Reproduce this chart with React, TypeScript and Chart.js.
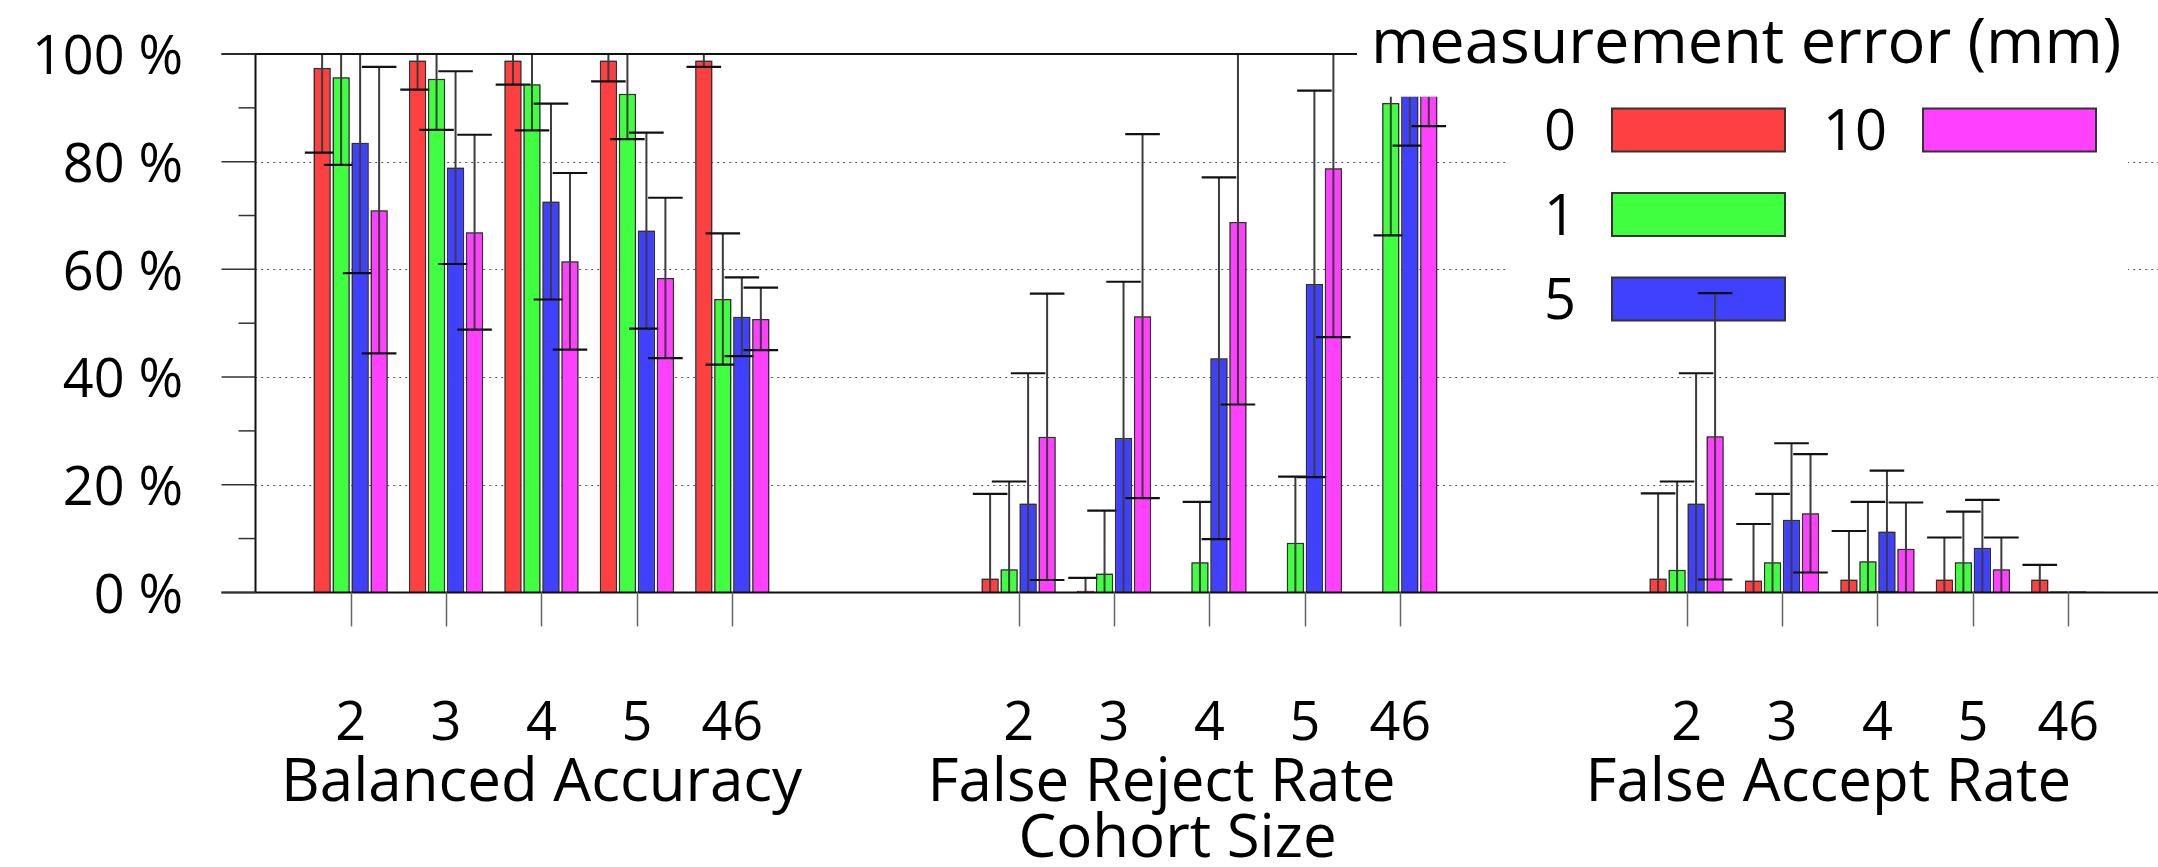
import React, { useEffect, useRef } from 'react';
import { Chart, registerables } from 'chart.js';

Chart.register(...registerables);

// ---------- data ----------
const cohortSizes = ['2', '3', '4', '5', '46'];
const metricNames = ['Balanced Accuracy', 'False Reject Rate', 'False Accept Rate'];
const axisTitle = 'Cohort Size';
const legendTitle = 'measurement error (mm)';
const errorLevels = ['0', '1', '5', '10'];
const yTicks = [0, 20, 40, 60, 80, 100];

// order: BA(2,3,4,5,46), FRR(2,3,4,5,46), FAR(2,3,4,5,46)
const mean0 = [97.4, 98.8, 98.8, 98.8, 98.8, 2.6, 0.3, 0, 0, 0, 2.6, 2.2, 2.4, 2.4, 2.4];
const sd0 = [15.7, 5.4, 4.5, 3.9, 1.2, 15.7, 2.4, 0, 0, 0, 15.8, 10.5, 9.0, 7.8, 2.7];
const mean1 = [95.7, 95.4, 94.4, 92.6, 54.5, 4.3, 3.5, 5.6, 9.2, 90.9, 4.2, 5.6, 5.8, 5.6, 0.2];
const sd1 = [16.3, 9.5, 8.6, 8.4, 12.2, 16.3, 11.7, 11.2, 12.3, 24.6, 16.4, 12.7, 11.0, 9.4, 0];
const mean5 = [83.5, 78.9, 72.6, 67.2, 51.2, 16.5, 28.7, 43.5, 57.3, 97.6, 16.5, 13.5, 11.3, 8.3, 0.2];
const sd5 = [24.2, 17.9, 18.2, 18.2, 7.3, 24.2, 29.0, 33.6, 35.9, 14.6, 24.2, 14.2, 11.3, 8.9, 0];
const mean10 = [71.0, 66.9, 61.5, 58.4, 50.8, 28.9, 51.3, 68.8, 78.8, 98.4, 29.0, 14.7, 8.1, 4.3, 0.1];
const sd10 = [26.6, 18.1, 16.4, 14.9, 5.8, 26.6, 33.8, 33.9, 31.4, 11.8, 26.6, 11.0, 8.6, 5.9, 0];

const means = [mean0, mean1, mean5, mean10];
const sds = [sd0, sd1, sd5, sd10];
const colors = ['#ff4040', '#40ff40', '#4040ff', '#ff40ff'];

// ---------- layout helpers ----------
const FONT = '"Open Sans", "Noto Sans", sans-serif';
const W = 2158;
const H = 867;
const GAP = 2; // empty slots between metric groups
const slotOf = (k: number) => Math.floor(k / cohortSizes.length) * (cohortSizes.length + GAP) + (k % cohortSizes.length);
const allSlots = means[0].map((_, k) => slotOf(k));
const labelForSlot = (v: number) => {
  const k = allSlots.indexOf(v);
  return k < 0 ? '' : cohortSizes[k % cohortSizes.length];
};

const decorPlugin = {
  id: 'decor',
  beforeDatasetsDraw(chart: any) {
    const { ctx, chartArea: ca, scales } = chart;
    const y = scales.y;
    ctx.save();
    // dotted grid lines
    ctx.strokeStyle = '#555';
    ctx.lineWidth = 1.2;
    ctx.setLineDash([2, 4]);
    for (const v of [20, 40, 60, 80]) {
      const py = Math.round(y.getPixelForValue(v)) + 0.5;
      ctx.beginPath();
      ctx.moveTo(ca.left, py);
      ctx.lineTo(ca.right, py);
      ctx.stroke();
    }
    ctx.setLineDash([]);
    // key (opaque)
    ctx.fillStyle = '#fff';
    ctx.fillRect(1506, 98, 622, 240);
    const rows = [
      { i: 0, col: 0, row: 0 },
      { i: 1, col: 0, row: 1 },
      { i: 2, col: 0, row: 2 },
      { i: 3, col: 1, row: 0 },
    ];
    ctx.font = `56px ${FONT}`;
    ctx.textAlign = 'right';
    ctx.textBaseline = 'middle';
    for (const r of rows) {
      const bx = 1612 + r.col * 311;
      const by = 108.5 + r.row * 84.5;
      ctx.fillStyle = colors[r.i];
      ctx.fillRect(bx, by, 173, 43);
      ctx.strokeStyle = '#333';
      ctx.lineWidth = 2;
      ctx.strokeRect(bx, by, 173, 43);
      ctx.fillStyle = '#000';
      ctx.fillText(errorLevels[r.i], bx - 36, by + 26);
    }
    ctx.restore();
  },
  afterDatasetsDraw(chart: any) {
    const { ctx, chartArea: ca, scales } = chart;
    const x = scales.x;
    const y = scales.y;
    // bars + error bars, dataset by dataset (later bars cover earlier caps)
    for (let d = 0; d < means.length; d++) {
      const meta = chart.getDatasetMeta(d);
      ctx.save();
      ctx.beginPath();
      ctx.rect(ca.left, ca.top, ca.right - ca.left, ca.bottom - ca.top);
      ctx.clip();
      meta.data.forEach((el: any) => el.draw(ctx));
      meta.data.forEach((el: any, k: number) => {
        const m = means[d][k];
        const s = sds[d][k];
        if (!s) return;
        const xc = el.x;
        const half = el.width;
        const yLo = y.getPixelForValue(Math.max(0, m - s));
        const yHi = y.getPixelForValue(Math.min(100, m + s));
        ctx.strokeStyle = '#3c3c3c';
        ctx.lineWidth = 2;
        ctx.beginPath();
        ctx.moveTo(xc, yLo);
        ctx.lineTo(xc, yHi);
        ctx.stroke();
        ctx.strokeStyle = '#111';
        ctx.lineWidth = 2.2;
        if (m + s <= 100) {
          ctx.beginPath();
          ctx.moveTo(xc - half, yHi);
          ctx.lineTo(xc + half, yHi);
          ctx.stroke();
        }
        if (m - s >= 0) {
          ctx.beginPath();
          ctx.moveTo(xc - half, yLo);
          ctx.lineTo(xc + half, yLo);
          ctx.stroke();
        }
      });
      ctx.restore();
    }
    ctx.save();
    // axis border lines and ticks
    const left = Math.round(ca.left) + 0.5;
    const top = y.getPixelForValue(100);
    const bottom = y.getPixelForValue(0);
    ctx.strokeStyle = '#111';
    ctx.lineWidth = 2;
    ctx.beginPath();
    ctx.moveTo(left - 34, top);
    ctx.lineTo(W, top);
    ctx.moveTo(left - 34, bottom);
    ctx.lineTo(W, bottom);
    ctx.moveTo(left, top);
    ctx.lineTo(left, bottom);
    ctx.stroke();
    ctx.lineWidth = 1.5;
    ctx.strokeStyle = '#333';
    for (let v = 0; v <= 100; v += 10) {
      const py = y.getPixelForValue(v);
      const len = v % 20 === 0 ? 34 : 17;
      ctx.beginPath();
      ctx.moveTo(left - len, py);
      ctx.lineTo(left, py);
      ctx.stroke();
    }
    ctx.strokeStyle = '#666';
    for (const sl of allSlots) {
      const px = Math.round(x.getPixelForValue(sl)) + 0.5;
      ctx.beginPath();
      ctx.moveTo(px, bottom);
      ctx.lineTo(px, bottom + 34);
      ctx.stroke();
    }
    // metric names and axis title
    ctx.fillStyle = '#000';
    ctx.textAlign = 'center';
    ctx.textBaseline = 'alphabetic';
    ctx.font = `60px ${FONT}`;
    const centers = [541.6, 1161.5, 1828.3];
    metricNames.forEach((t, i) => ctx.fillText(t, centers[i], 801));
    ctx.fillText(axisTitle, 1177.5, 857);
    // key title (opaque)
    ctx.fillStyle = '#fff';
    ctx.fillRect(1357, 0, W - 1357, 96.7);
    ctx.fillStyle = '#000';
    ctx.textAlign = 'left';
    ctx.font = `63px ${FONT}`;
    ctx.fillText(legendTitle, 1371, 63);
    ctx.restore();
  },
};

export default function App() {
  const ref = useRef<HTMLCanvasElement | null>(null);
  useEffect(() => {
    if (!ref.current) return;
    const chart = new Chart(ref.current, {
      type: 'bar',
      data: {
        datasets: errorLevels.map((lvl, d) => ({
          label: lvl,
          data: means[d].map((v, k) => ({ x: slotOf(k), y: v })),
          backgroundColor: colors[d],
          borderColor: 'rgba(45,45,45,0.85)',
          borderWidth: 1.5,
          borderSkipped: 'start',
          categoryPercentage: 0.7964,
          barPercentage: 0.91,
        })),
      },
      options: {
        animation: false,
        responsive: false,
        maintainAspectRatio: false,
        layout: { padding: { top: 54, left: 0, right: 0, bottom: 0 } },
        plugins: { legend: { display: false }, tooltip: { enabled: false } },
        scales: {
          x: {
            type: 'linear',
            offset: false,
            min: -1,
            max: 18.94,
            grid: { display: false, drawTicks: false, offset: false },
            border: { display: false },
            afterBuildTicks: (s: any) => {
              s.ticks = allSlots.map((v) => ({ value: v }));
            },
            afterFit: (s: any) => {
              s.height = H - 592.4;
              s.paddingLeft = 0;
              s.paddingRight = 0;
            },
            ticks: {
              autoSkip: false,
              maxRotation: 0,
              minRotation: 0,
              padding: 100,
              color: '#000',
              font: { family: FONT, size: 54 },
              callback: (v: any) => labelForSlot(Number(v)),
            },
          },
          y: {
            min: 0,
            max: 100,
            grid: { display: false, drawTicks: false },
            border: { display: false },
            afterFit: (s: any) => {
              s.width = 255.2;
              s.paddingTop = 0;
              s.paddingBottom = 0;
            },
            afterBuildTicks: (s: any) => {
              s.ticks = yTicks.map((v) => ({ value: v }));
            },
            ticks: {
              padding: 72,
              labelOffset: 5,
              color: '#000',
              font: { family: FONT, size: 54 },
              callback: (v: any) => `${v} %`,
            },
          },
        },
      },
      plugins: [decorPlugin],
    } as any);
    return () => chart.destroy();
  }, []);
  return (
    <div style={{ position: 'fixed', left: 0, top: 0, width: W, height: H, background: '#fff' }}>
      <canvas ref={ref} width={W} height={H} style={{ width: W, height: H, display: 'block' }} />
    </div>
  );
}
